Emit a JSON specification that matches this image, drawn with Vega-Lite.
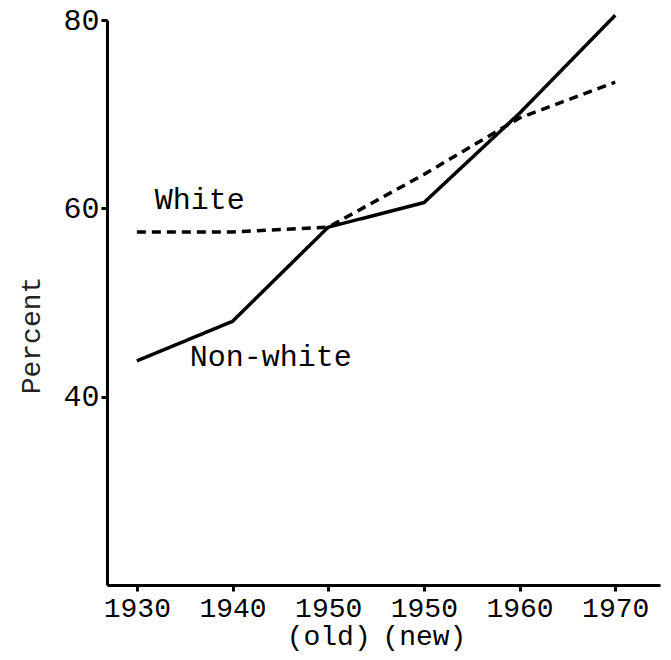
{
  "$schema": "https://vega.github.io/schema/vega-lite/v6.json",
  "autosize": "none",
  "width": 553,
  "height": 565,
  "padding": {"left": 107, "top": 20, "right": 11, "bottom": 75},
  "background": "white",
  "config": {"view": {"stroke": null}},
  "datasets": {
    "lines": [
      {"series": "Non-white", "period": "1930", "value": 43.8},
      {"series": "Non-white", "period": "1940", "value": 48.0},
      {"series": "Non-white", "period": "1950 (old)", "value": 58.0},
      {"series": "Non-white", "period": "1950 (new)", "value": 60.6},
      {"series": "Non-white", "period": "1960", "value": 70.1},
      {"series": "Non-white", "period": "1970", "value": 80.5},
      {"series": "White", "period": "1930", "value": 57.5},
      {"series": "White", "period": "1940", "value": 57.5},
      {"series": "White", "period": "1950 (old)", "value": 58.0},
      {"series": "White", "period": "1950 (new)", "value": 63.6},
      {"series": "White", "period": "1960", "value": 69.6},
      {"series": "White", "period": "1970", "value": 73.4}
    ],
    "labels": [
      {"label": "White", "period": "1930", "value": 60.9},
      {"label": "Non-white", "period": "1930", "value": 44.2}
    ]
  },
  "encoding": {
    "x": {
      "field": "period",
      "type": "ordinal",
      "sort": ["1930", "1940", "1950 (old)", "1950 (new)", "1960", "1970"],
      "scale": {"type": "point", "padding": 0.39, "align": 0.4},
      "axis": {
        "title": null,
        "labelAngle": 0,
        "labelExpr": "datum.value == '1950 (old)' ? ['1950', '(old)'] : datum.value == '1950 (new)' ? ['1950', '(new)'] : datum.value",
        "labelFont": "Liberation Mono",
        "labelFontSize": 28,
        "labelLineHeight": 28,
        "labelColor": "black",
        "labelPadding": 3,
        "domainColor": "black",
        "domainWidth": 3,
        "tickColor": "black",
        "tickWidth": 3,
        "tickSize": 6,
        "grid": false
      }
    },
    "y": {
      "field": "value",
      "type": "quantitative",
      "scale": {"domain": [20, 80], "nice": false, "zero": false},
      "axis": {
        "title": "Percent",
        "values": [40, 60, 80],
        "labelFont": "Liberation Mono",
        "labelFontSize": 30,
        "labelColor": "black",
        "labelPadding": 2,
        "domainColor": "black",
        "domainWidth": 3,
        "tickColor": "black",
        "tickWidth": 3,
        "tickSize": 6,
        "grid": false,
        "titleFont": "Liberation Mono",
        "titleFontSize": 28,
        "titleFontWeight": "normal",
        "titleColor": "#222222",
        "titleX": -76,
        "titleY": 315,
        "titleAlign": "center",
        "titleBaseline": "middle"
      }
    }
  },
  "layer": [
    {
      "data": {"name": "lines"},
      "mark": {"type": "line", "color": "black", "strokeWidth": 3.5},
      "encoding": {
        "detail": {"field": "series"},
        "strokeDash": {
          "field": "series",
          "type": "nominal",
          "scale": {"domain": ["Non-white", "White"], "range": [[1, 0], [9, 6]]},
          "legend": null
        }
      }
    },
    {
      "data": {"name": "labels"},
      "mark": {"type": "text", "font": "Liberation Mono", "fontSize": 30, "align": "left", "baseline": "middle", "color": "black", "dx": 18},
      "transform": [{"filter": "datum.label == 'White'"}],
      "encoding": {"text": {"field": "label"}}
    },
    {
      "data": {"name": "labels"},
      "mark": {"type": "text", "font": "Liberation Mono", "fontSize": 30, "align": "left", "baseline": "middle", "color": "black", "dx": 53},
      "transform": [{"filter": "datum.label == 'Non-white'"}],
      "encoding": {"text": {"field": "label"}}
    }
  ]
}
